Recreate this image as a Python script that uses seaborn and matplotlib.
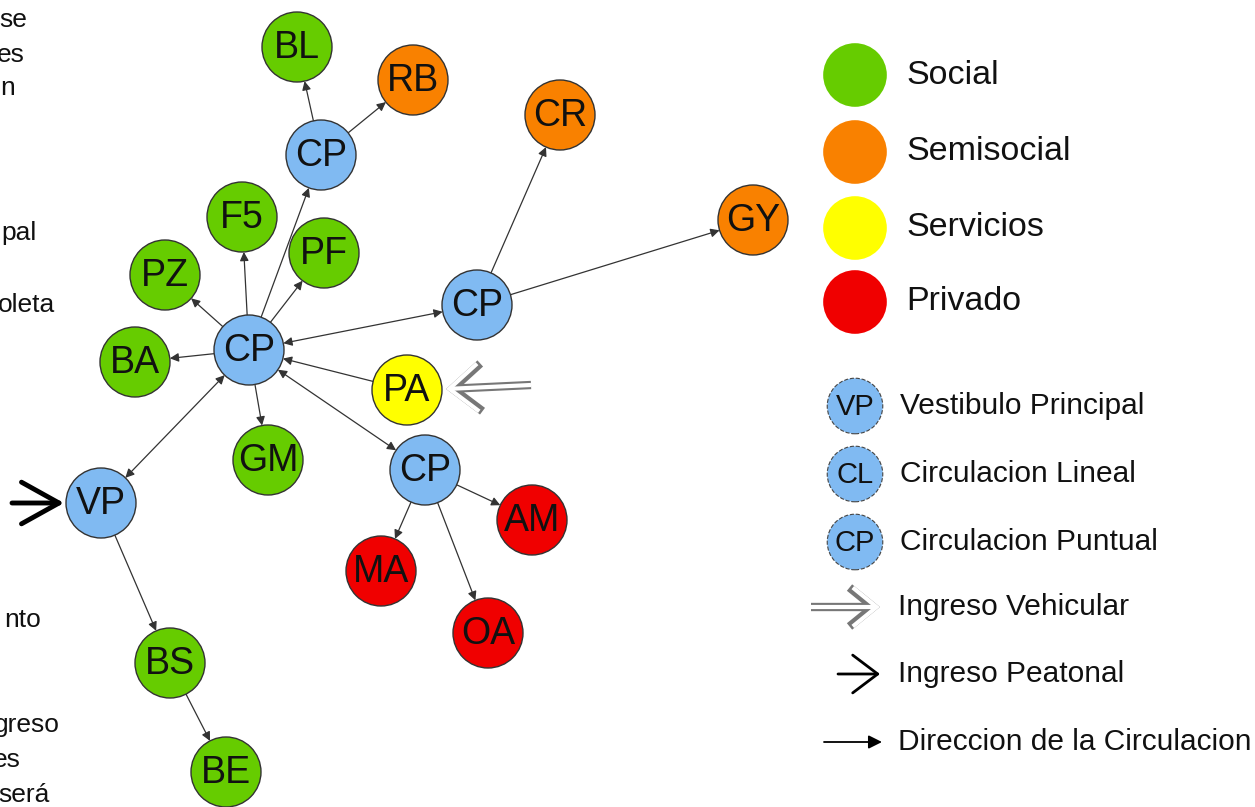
import pandas as pd
import matplotlib.pyplot as plt
import seaborn as sns

# nodos del diagrama (coordenadas en pixeles de la imagen)
node_id = ["BL", "RB", "CP1", "CR", "GY", "F5", "PF", "PZ", "CP0", "CP2",
           "BA", "PA", "GM", "CP3", "AM", "MA", "OA", "VP", "BS", "BE"]
node_label = ["BL", "RB", "CP", "CR", "GY", "F5", "PF", "PZ", "CP", "CP",
              "BA", "PA", "GM", "CP", "AM", "MA", "OA", "VP", "BS", "BE"]
node_x = [297, 413, 321, 560, 753, 242, 324, 165, 249, 477,
          135, 407, 268, 425, 532, 381, 488, 101, 170, 226]
node_y = [47, 80, 155, 115, 220, 217, 253, 275, 350, 305,
          362, 390, 460, 470, 520, 571, 633, 503, 663, 772]
node_cat = ["Social", "Semisocial", "Circulacion", "Semisocial", "Semisocial",
            "Social", "Social", "Social", "Circulacion", "Circulacion",
            "Social", "Servicios", "Social", "Circulacion", "Privado",
            "Privado", "Privado", "Circulacion", "Social", "Social"]

# aristas: origen, destino, doble sentido
edge_src = ["CP1", "CP1", "CP0", "CP0", "CP0", "CP0", "CP0", "CP0", "CP0", "CP2",
            "CP2", "PA", "CP0", "CP3", "CP3", "CP3", "VP", "VP", "BS"]
edge_dst = ["BL", "RB", "CP1", "F5", "PF", "PZ", "BA", "GM", "CP2", "CR",
            "GY", "CP0", "CP3", "AM", "MA", "OA", "CP0", "BS", "BE"]
edge_both = [False, False, False, False, False, False, False, False, True, False,
             False, False, True, False, False, False, True, False, False]

# leyenda
legend_cat = ["Social", "Semisocial", "Servicios", "Privado"]
legend_cat_y = [75, 152, 228, 302]
legend_circ = ["VP", "CL", "CP"]
legend_circ_text = ["Vestibulo Principal", "Circulacion Lineal", "Circulacion Puntual"]
legend_circ_y = [406, 474, 542]

# textos cortados del margen izquierdo
left_text = ["se", "es", "n", "pal", "oleta", "nto", "greso", "es", "será"]
left_x = [27, 25, 15, 37, 55, 41, 60, 21, 50]
left_y = [20, 55, 88, 233, 305, 620, 725, 760, 795]

colores = {"Social": "#66cc00", "Semisocial": "#f98100", "Servicios": "#ffff00",
           "Privado": "#f00000", "Circulacion": "#80baf2"}

plt.rcParams['font.family'] = ['Liberation Sans', 'DejaVu Sans']

fig = plt.figure(figsize=(12.55, 8.07), dpi=100)
ax = fig.add_axes([0, 0, 1, 1])

nodes = pd.DataFrame({"id": node_id, "label": node_label, "x": node_x,
                      "y": node_y, "cat": node_cat})
pos = nodes.set_index("id")[["x", "y"]]

r_pt = 35 * 0.72
for s, d, b in zip(edge_src, edge_dst, edge_both):
    ax.annotate("", xy=(pos.loc[d, "x"], pos.loc[d, "y"]),
                xytext=(pos.loc[s, "x"], pos.loc[s, "y"]),
                arrowprops=dict(arrowstyle="<|-|>" if b else "-|>", color="#333333",
                                lw=0.9, shrinkA=r_pt, shrinkB=r_pt, mutation_scale=13),
                zorder=2)

sns.scatterplot(data=nodes, x="x", y="y", hue="cat", palette=colores, s=2540,
                edgecolor="#333333", linewidth=1, legend=False, ax=ax, zorder=3)
for _, row in nodes.iterrows():
    ax.text(row["x"], row["y"] + 1, row["label"], fontsize=27, color="#111111",
            ha="center", va="center", zorder=4)


def flecha_doble(tip, tail, hl, hw):
    estilo = "->,head_length=%s,head_width=%s" % (hl, hw)
    for c, w in (("#777777", 6), ("white", 3)):
        ax.annotate("", xy=tip, xytext=tail,
                    arrowprops=dict(arrowstyle=estilo, color=c, lw=w, mutation_scale=40,
                                    shrinkA=0, shrinkB=0, capstyle="butt",
                                    joinstyle="miter"), zorder=2)


# ingreso vehicular hacia PA
flecha_doble((446, 389), (531, 385), 0.52, 0.43)
# ingreso peatonal hacia VP
ax.annotate("", xy=(64, 503), xytext=(12, 503),
            arrowprops=dict(arrowstyle="->,head_length=0.54,head_width=0.3",
                            mutation_scale=50, color="black", lw=3.5,
                            shrinkA=0, shrinkB=0), zorder=2)

# leyenda de categorias
leg = pd.DataFrame({"x": [855] * 4, "y": legend_cat_y, "cat": legend_cat})
sns.scatterplot(data=leg, x="x", y="y", hue="cat", palette=colores, s=2100,
                edgecolor="none", legend=False, ax=ax)
for t, y in zip(legend_cat, legend_cat_y):
    ax.text(906, y, t, fontsize=24.5, color="#111111", va="center")

leg2 = pd.DataFrame({"x": [855] * 3, "y": legend_circ_y, "cat": ["Circulacion"] * 3})
sns.scatterplot(data=leg2, x="x", y="y", hue="cat", palette=colores, s=1600,
                edgecolor="#444444", linewidth=0.8, linestyle="--", legend=False, ax=ax)
for c, t, y in zip(legend_circ, legend_circ_text, legend_circ_y):
    ax.text(855, y + 1, c, fontsize=21, color="#111111", ha="center", va="center")
    ax.text(900, y, t, fontsize=21.5, color="#111111", va="center")

flecha_doble((880, 607), (811, 607), 0.43, 0.35)
ax.text(898, 607, "Ingreso Vehicular", fontsize=21.5, color="#111111", va="center")
ax.annotate("", xy=(880, 674), xytext=(838, 674),
            arrowprops=dict(arrowstyle="->,head_length=0.45,head_width=0.34",
                            mutation_scale=40, color="black", lw=2,
                            shrinkA=0, shrinkB=0))
ax.text(898, 674, "Ingreso Peatonal", fontsize=21.5, color="#111111", va="center")
ax.annotate("", xy=(882, 742), xytext=(824, 742),
            arrowprops=dict(arrowstyle="-|>", color="black", lw=1.3, mutation_scale=20,
                            shrinkA=0, shrinkB=0))
ax.text(898, 742, "Direccion de la Circulacion", fontsize=21.5, color="#111111", va="center")

for t, x, y in zip(left_text, left_x, left_y):
    ax.text(x, y, t, fontsize=19, color="#111111", ha="right", va="center")

ax.set_xlim(0, 1255)
ax.set_ylim(807, 0)
ax.axis('off')
fig.savefig("out.png", dpi=100)
